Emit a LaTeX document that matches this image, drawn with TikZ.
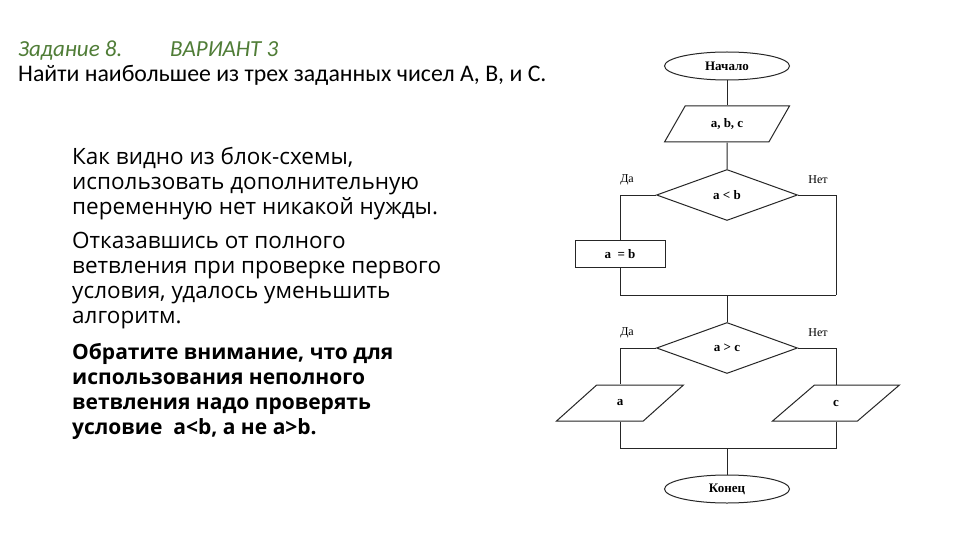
\documentclass[tikz,border=0pt]{standalone}
\usepackage{fontspec}
\setmainfont{Carlito}
\newfontfamily\bodyfont{Open Sans}
\newfontfamily\schemefont{Liberation Serif}
\usetikzlibrary{shapes.geometric}
\definecolor{taskgreen}{RGB}{80,125,55}
\begin{document}
\begin{tikzpicture}[x=1pt,y=-1pt,
	line/.style={draw=black!85,line width=1pt},
	term/.style={line,ellipse,minimum width=125pt,minimum height=28pt,inner sep=0pt,
		font=\schemefont\bfseries\fontsize{13}{15}\selectfont},
	io/.style={line,trapezium,trapezium left angle=54,trapezium right angle=126,
		trapezium stretches=true,minimum width=125pt,minimum height=36pt,inner sep=0pt,
		font=\schemefont\bfseries\fontsize{13}{15}\selectfont},
	io2/.style={io,trapezium left angle=48,trapezium right angle=132,minimum width=127pt},
	cond/.style={line,diamond,minimum width=141pt,minimum height=51pt,inner sep=0pt,
		font=\schemefont\bfseries\fontsize{13}{15}\selectfont},
	proc/.style={line,rectangle,minimum width=90pt,minimum height=27pt,inner sep=0pt,
		font=\schemefont\bfseries\fontsize{13}{15}\selectfont},
	yesno/.style={font=\schemefont\fontsize{12}{14}\selectfont},
	para/.style={anchor=north west,align=left,inner sep=0pt,
		font=\bodyfont\fontsize{22.5}{25}\selectfont}]
\useasboundingbox[fill=white] (0,0) rectangle (960,540);

% заголовок
\node[anchor=base west,inner sep=0pt,taskgreen,font=\itshape\fontsize{23}{26}\selectfont]
	(task) at (18,57) {Задание 8.};
\node[anchor=base west,inner sep=0pt,taskgreen,font=\itshape\fontsize{23}{26}\selectfont]
	(variant) at (170,57) {ВАРИАНТ 3};
\node[anchor=base west,inner sep=0pt,font=\fontsize{23.8}{26}\selectfont]
	(goal) at (18,82) {Найти наибольшее из трех заданных чисел А, В, и С.};

% пояснения
\node[para] (p1) at (72,147) {Как видно из блок-схемы,\\использовать дополнительную\\переменную нет никакой нужды.};
\node[para] (p2) at (72,232) {Отказавшись от полного\\ветвления при проверке первого\\условия, удалось уменьшить\\алгоритм.};
\node[para,font=\bodyfont\bfseries\fontsize{21}{25}\selectfont] (p3) at (72,343)
	{Обратите внимание, что для\\использования неполного\\ветвления надо проверять\\условие~ a<b, а не a>b.};

% блок-схема
\node[term] (start) at (727,66) {Начало};
\node[io] (input) at (727,124) {a, b, c};
\node[cond] (ifab) at (727,195) {a < b};
\node[proc] (assign) at (620,254) {a \ = b};
\node[cond] (ifac) at (727,348) {a > c};
\node[io2] (outa) at (620,403) {a};
\node[io2] (outc) at (836,403) {c};
\node[term] (stop) at (727,489) {Конец};

\node[yesno] (yes1) at (627,180) {Да};
\node[yesno] (no1) at (818,180) {Нет};
\node[yesno] (yes2) at (627,333) {Да};
\node[yesno] (no2) at (818,333) {Нет};

\coordinate (merge1) at (727,295);
\coordinate (right1) at (836,295);
\coordinate (merge2) at (727,448);

\draw[line] (start) -- (input);
\draw[line] (input) -- (ifab);
\draw[line] (ifab.west) -| (assign.north);
\draw[line] (ifab.east) -| (right1);
\draw[line] (assign.south) |- (right1);
\draw[line] (merge1) -- (ifac.north);
\draw[line] (ifac.west) -| (outa.north);
\draw[line] (ifac.east) -| (outc.north);
\draw[line] (outa.south) |- (merge2);
\draw[line] (outc.south) |- (merge2);
\draw[line] (merge2) -- (stop.north);
\end{tikzpicture}
\end{document}
